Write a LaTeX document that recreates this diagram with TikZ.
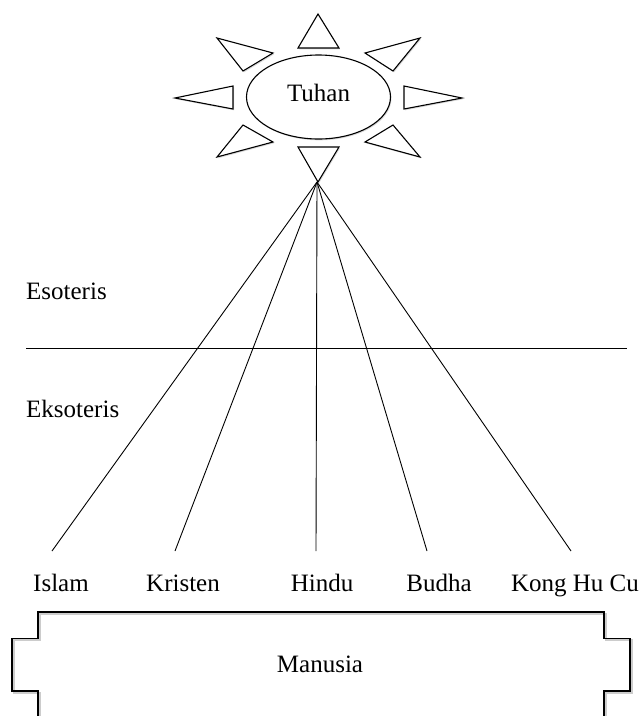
\documentclass[tikz,border=0pt]{standalone}
\usepackage{fontspec}
\setmainfont{Liberation Serif}
\usetikzlibrary{shapes.geometric,shadows}

\tikzset{
  ray/.style={draw, line width=1.1pt, fill=white, line join=miter,
    drop shadow={shadow xshift=1pt, shadow yshift=-1.3pt, opacity=0.3}},
  spoke/.style={line width=0.9pt},
  lbl/.style={font=\fontsize{25}{30}\selectfont, inner sep=0pt},
}

\begin{document}
\begin{tikzpicture}[x=1pt, y=-1pt]
    \useasboundingbox (0,0) rectangle (643,716);

    % Sun
    \node[draw, ellipse, line width=1.1pt, fill=white, minimum width=144pt, minimum height=84pt,
      drop shadow={shadow xshift=1pt, shadow yshift=-1.3pt, opacity=0.3}] (tuhan) at (318.5,97) {};
    \node[lbl, anchor=base] at (318.5,101) {Tuhan};

    % Rays
    \foreach \a/\b/\c in {{318,14}/{298,48}/{339,48}, {298,147}/{339,147}/{318,182},
                          {175,98}/{233,86}/{233,109}, {462,98}/{404,86}/{404,109},
                          {217,38}/{273,53}/{243,71}, {420,38}/{365,53}/{393,71},
                          {243,125}/{273,142}/{217,157}, {393,125}/{365,142}/{420,157}}
        \path[ray] (\a) -- (\b) -- (\c) -- cycle;
    \coordinate (apex) at (317,182);

    % Religions
    \foreach \n/\x/\t in {islam/61/Islam, kristen/183/Kristen, hindu/322/Hindu,
                          budha/439/Budha, konghucu/575/Kong Hu Cu}
        \node[lbl, anchor=base] (\n) at (\x,591) {\t};
    \foreach \n/\x in {islam/52, kristen/175, hindu/316, budha/427, konghucu/571} {
        \coordinate (\n-end) at (\x,551);
        \draw[spoke] (apex) -- (\n-end);
    }

    % Esoteris / Eksoteris
    \node[lbl, anchor=base west] (eso) at (26,299) {Esoteris};
    \node[lbl, anchor=base west] (ekso) at (26,417) {Eksoteris};
    \draw[spoke] (26,348) -- (627,348);

    % Manusia
    \draw[gray!40, line width=2pt] (39.5,718) -- (39.5,692.5) -- (13.5,692.5) -- (13.5,640)
        -- (39.5,640) -- (39.5,613.5) -- (605.5,613.5) -- (605.5,640) -- (631.5,640)
        -- (631.5,692.5) -- (605.5,692.5) -- (605.5,718);
    \draw[line width=1.1pt, line join=miter] (38,718) -- (38,691) -- (12,691) -- (12,638.5)
        -- (38,638.5) -- (38,612) -- (604,612) -- (604,638.5) -- (630,638.5)
        -- (630,691) -- (604,691) -- (604,718);
    \node[lbl, anchor=base] (manusia) at (320,672) {Manusia};
\end{tikzpicture}
\end{document}
